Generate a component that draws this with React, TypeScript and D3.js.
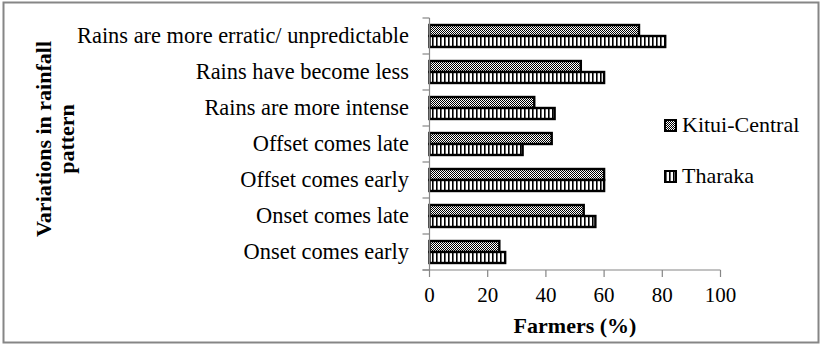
import React from "react";
import * as d3 from "d3";

const categories = [
  "Rains are more erratic/ unpredictable",
  "Rains have become less",
  "Rains are more intense",
  "Offset comes late",
  "Offset comes early",
  "Onset comes late",
  "Onset comes early",
];
const seriesNames = ["Kitui-Central", "Tharaka"];
const kituiValues = [72, 52, 36, 42, 60, 53, 24];
const tharakaValues = [81, 60, 43, 32, 60, 57, 26];
const xTicks = [0, 20, 40, 60, 80, 100];
const xTitle = "Farmers (%)";
const yTitleLines = ["Variations in rainfall", "pattern"];

const W = 822;
const H = 360;
const FONT = "'Liberation Serif', 'Times New Roman', serif";
const AXIS = "#868686";

export default function App() {
  const x = d3.scaleLinear().domain([0, 100]).range([429.5, 720.5]);
  const y = d3.scaleBand<string>().domain(categories).range([18, 270]).padding(0);
  const sub = d3
    .scaleBand<string>()
    .domain(seriesNames)
    .range([0, y.bandwidth()])
    .paddingInner(0)
    .paddingOuter(7 / 11);
  const values = [kituiValues, tharakaValues];
  const fills = ["url(#checker)", "url(#stripes)"];
  const boundaries = d3.range(categories.length + 1).map((i) => 18 + i * y.step());

  return (
    <svg
      width={W}
      height={H}
      style={{ position: "absolute", left: 0, top: 0, background: "#fff" }}
      fontFamily={FONT}
    >
      <defs>
        <pattern id="checker" width={2} height={2} patternUnits="userSpaceOnUse">
          <rect width={2} height={2} fill="#fff" />
          <rect x={0} y={0} width={1} height={1} fill="#000" />
          <rect x={1} y={1} width={1} height={1} fill="#000" />
        </pattern>
        <pattern id="stripes" width={4} height={4} patternUnits="userSpaceOnUse">
          <rect width={4} height={4} fill="#fff" />
          <rect x={0} y={0} width={1.6} height={4} fill="#000" />
        </pattern>
      </defs>
      <rect x={3.5} y={2.5} width={815} height={340} fill="#fff" stroke={AXIS} strokeWidth={2} />

      {/* bars */}
      {categories.map((c, i) => (
        <g key={c}>
          {seriesNames.map((s, k) => (
            <rect
              key={s}
              x={x(0)}
              y={(y(c) as number) + (sub(s) as number)}
              width={x(values[k][i]) - x(0)}
              height={sub.bandwidth()}
              fill={fills[k]}
              stroke="#000"
              strokeWidth={2.4}
            />
          ))}
        </g>
      ))}

      {/* axes */}
      <line x1={x(0)} x2={x(0)} y1={18} y2={270} stroke={AXIS} strokeWidth={1.2} />
      {boundaries.map((b, i) => (
        <line key={i} x1={422.5} x2={x(0)} y1={b} y2={b} stroke={AXIS} strokeWidth={1.2} />
      ))}
      <line x1={422.5} x2={x(100)} y1={270} y2={270} stroke={AXIS} strokeWidth={1.2} />
      {xTicks.map((t) => (
        <g key={t}>
          <line x1={x(t)} x2={x(t)} y1={270} y2={277} stroke={AXIS} strokeWidth={1.2} />
          <text x={x(t)} y={302} fontSize={21} textAnchor="middle" fill="#000">
            {t}
          </text>
        </g>
      ))}

      {/* category labels */}
      {categories.map((c) => (
        <text
          key={c}
          x={409}
          y={(y(c) as number) + y.bandwidth() / 2 + 7}
          fontSize={22.4}
          textAnchor="end"
          fill="#000"
        >
          {c}
        </text>
      ))}

      {/* axis titles */}
      <text x={575} y={333} fontSize={22} fontWeight="bold" textAnchor="middle" fill="#000">
        {xTitle}
      </text>
      <g transform="rotate(-90)">
        {yTitleLines.map((l, i) => (
          <text
            key={l}
            x={-139}
            y={51 + i * 23}
            fontSize={22}
            fontWeight="bold"
            textAnchor="middle"
            fill="#000"
          >
            {l}
          </text>
        ))}
      </g>

      {/* legend */}
      {seriesNames.map((s, k) => (
        <g key={s} transform={`translate(665, ${120 + k * 51})`}>
          <rect x={0} y={0} width={11} height={11} fill={fills[k]} stroke="#000" strokeWidth={2} />
          <text x={17} y={12} fontSize={22} fill="#000">
            {s}
          </text>
        </g>
      ))}
    </svg>
  );
}
